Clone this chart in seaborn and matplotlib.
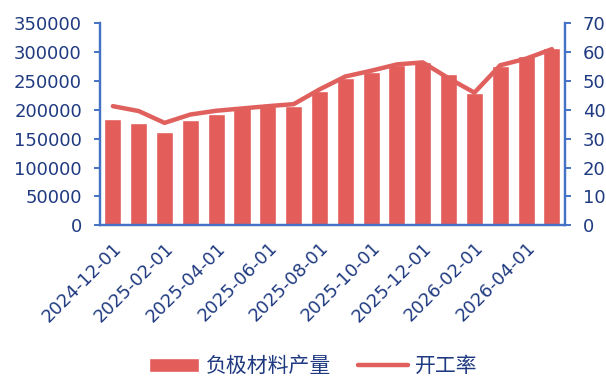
import numpy as np
import pandas as pd
import matplotlib
matplotlib.use("Agg")
import matplotlib.pyplot as plt
from matplotlib.ticker import FixedLocator, NullFormatter
import seaborn as sns

# Monthly anode-material output and operating rate
months = ["2024-12-01", "2025-01-01", "2025-02-01", "2025-03-01", "2025-04-01",
          "2025-05-01", "2025-06-01", "2025-07-01", "2025-08-01", "2025-09-01",
          "2025-10-01", "2025-11-01", "2025-12-01", "2026-01-01", "2026-02-01",
          "2026-03-01", "2026-04-01", "2026-05-01"]
output = [185000, 177000, 161000, 182000, 193000, 203000, 207000, 206000,
          232000, 256000, 266000, 278000, 283000, 263000, 230000, 277000,
          294000, 307000]
rate = [41.3, 39.6, 35.5, 38.4, 39.7, 40.5, 41.3, 42.0, 47.1, 51.6, 53.6,
        55.8, 56.5, 51.0, 46.0, 55.5, 57.8, 61.1]
left_ticks = [0, 50000, 100000, 150000, 200000, 250000, 300000, 350000]
right_ticks = [0, 10, 20, 30, 40, 50, 60, 70]

df = pd.DataFrame({"month": months, "output": output, "rate": rate})

sns.set_theme(style="white")
plt.rcParams["font.family"] = ["Noto Sans CJK SC", "DejaVu Sans"]

RED = "#E35D5B"
LINE = "#E0605E"
SPINE = "#4472C4"
TEXT = "#1F3A80"

fig = plt.figure(figsize=(6.06, 3.79), dpi=100)
ax = fig.add_axes([0.165, 0.406, 0.767, 0.532])
ax2 = ax.twinx()

sns.barplot(data=df, x="month", y="output", color=RED, saturation=1,
            width=0.66, ax=ax, label="负极材料产量", legend=False)
sns.lineplot(data=df, x="month", y="rate", color=LINE, linewidth=3.2,
             sort=False, ax=ax2, label="开工率", legend=False)

n = len(months)
ax.set_xlim(-0.5, n - 0.5)
ax.set_ylim(0, 350000)
ax2.set_ylim(0, 70)
ax.set_yticks(left_ticks)
ax2.set_yticks(right_ticks)
ax.set_xlabel("")
ax.set_ylabel("")
ax2.set_ylabel("")

# Tick marks sit on the month boundaries; labels sit under every second bar
ax.xaxis.set_major_locator(FixedLocator(np.arange(-0.5, n, 2)))
ax.xaxis.set_major_formatter(NullFormatter())
ax.xaxis.set_minor_locator(FixedLocator(np.arange(0, n, 2)))
ax.set_xticklabels([months[i] for i in range(0, n, 2)], minor=True,
                   rotation=45, ha="right", rotation_mode="anchor")

lab_font = ["DejaVu Sans"]
for a in (ax, ax2):
    a.spines["top"].set_visible(False)
    for side in ("left", "right", "bottom"):
        a.spines[side].set_color(SPINE)
        a.spines[side].set_linewidth(1.6)
    a.grid(False)

ax.tick_params(axis="x", which="major", direction="inout", length=7,
               width=1.4, color=SPINE)
ax.tick_params(axis="x", which="minor", length=0, pad=10,
               labelsize=13, labelcolor=TEXT)
ax.tick_params(axis="y", direction="out", length=4, width=1.4, color=SPINE,
               labelsize=13, labelcolor=TEXT, pad=9)
ax2.tick_params(axis="y", direction="out", length=4, width=1.4, color=SPINE,
                labelsize=13, labelcolor=TEXT, pad=9)
for t in ax.get_xticklabels(minor=True) + ax.get_yticklabels() + ax2.get_yticklabels():
    t.set_family(lab_font)

h1, l1 = ax.get_legend_handles_labels()
h2, l2 = ax2.get_legend_handles_labels()
fig.legend(h1 + h2, l1 + l2, loc="center", bbox_to_anchor=(0.517, 0.034),
           ncol=2, frameon=False, fontsize=15, labelcolor=TEXT,
           handlelength=2.4, handleheight=0.7, columnspacing=1.25,
           handletextpad=0.34, borderpad=0.1)

fig.savefig("out.png", dpi=100)
